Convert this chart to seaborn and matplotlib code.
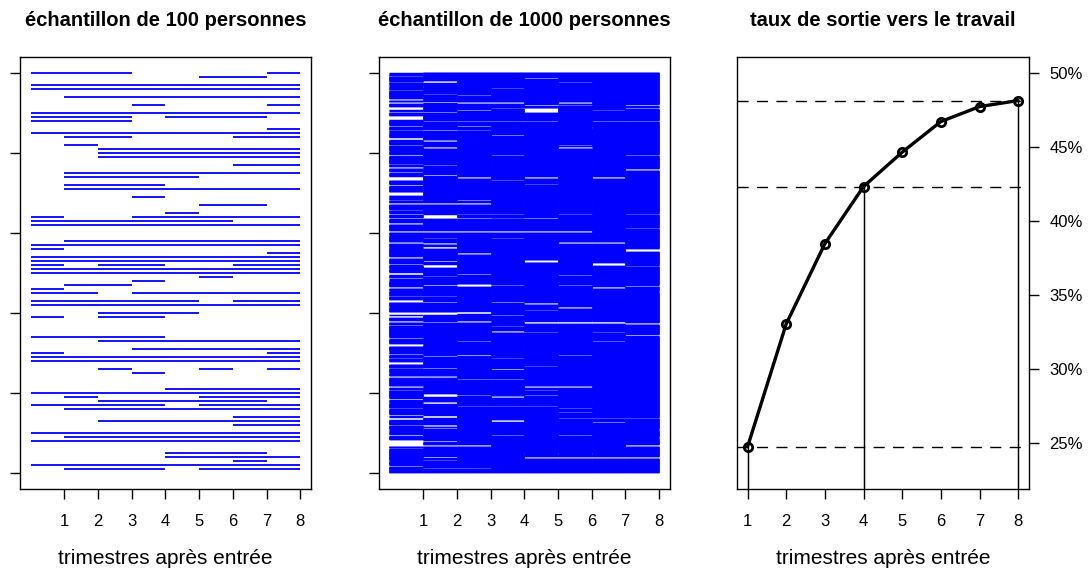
import numpy as np
import matplotlib
matplotlib.use("Agg")
import matplotlib.pyplot as plt
import seaborn as sns

# ---------------- data ----------------
titles = ["échantillon de 100 personnes", "échantillon de 1000 personnes",
          "taux de sortie vers le travail"]
xlabel = "trimestres après entrée"
quarters = [1, 2, 3, 4, 5, 6, 7, 8]

# exit rate to work (%) per quarter
rates = [24.73, 33.03, 38.45, 42.31, 44.63, 46.70, 47.71, 48.12]
highlight_quarters = [1, 4, 8]
pct_ticks = [25, 30, 35, 40, 45, 50]
pct_range = [23, 50]

# sample of 100 persons: one string per person, top person (100) first,
# one character per quarter (1 = in work during that quarter)
sample100 = [
    "11100001", "00000110", "00000000", "11111111", "11111111",
    "00000000", "01111111", "00000000", "00010001", "00000000",
    "11111111", "11101110", "11100000", "00000000", "00000001",
    "11111111", "01100011", "00000000", "01000000", "00111111",
    "00111111", "00111111", "00000000", "00000011", "00000000",
    "01111111", "01111000", "00000000", "01110000", "01111111",
    "00000000", "00010000", "00000000", "00000110", "00000000",
    "00001000", "10011111", "11111100", "11111111", "00000000",
    "00000000", "00000000", "01111111", "11111111", "10000000",
    "00000001", "11111111", "11111111", "10110011", "11111111",
    "11111111", "00000100", "00010000", "01100000", "10000000",
    "11011111", "00000000", "11111011", "11111111", "00000000",
    "00111000", "10110000", "00000000", "00000000", "00000000",
    "00000000", "11110000", "00111111", "00000000", "00011111",
    "10000001", "11111111", "11111111", "00000000", "00100101",
    "00010000", "00000000", "00000000", "00000000", "00001111",
    "11111111", "01000111", "00111110", "11110111", "01111111",
    "00000000", "00000011", "00111111", "00000011", "00000000",
    "11111111", "01111111", "11111111", "00000000", "00000000",
    "00001110", "00001111", "00000010", "11111111", "01110111",
]

# sample of 1000 persons: runs of persons NOT in work, per quarter,
# as (central person index, number of persons), read from the white streaks
gaps_q1 = [(998, 3), (992, 3), (977, 3), (970, 3), (965, 3), (957, 3), (933, 5),
           (925, 5), (911, 9), (902, 5), (892, 3), (886, 9), (867, 5), (856, 3),
           (850, 3), (836, 8), (819, 3), (805, 3), (794, 5), (772, 3), (763, 5),
           (751, 5), (738, 8), (732, 3), (719, 5), (698, 10), (688, 3), (682, 3),
           (673, 5), (657, 3), (647, 5), (636, 5), (623, 5), (603, 5), (593, 3),
           (575, 5), (563, 3), (538, 5), (521, 5), (510, 3), (498, 8), (486, 5),
           (480, 3), (463, 5), (455, 3), (442, 3), (430, 8), (415, 3), (398, 9),
           (390, 5), (378, 5), (369, 3), (336, 5), (320, 8), (303, 3), (296, 5),
           (286, 3), (275, 8), (261, 3), (250, 3), (240, 5), (215, 5), (207, 3),
           (184, 5), (175, 3), (161, 3), (144, 5), (136, 8), (119, 3), (108, 3),
           (103, 3), (94, 5), (75, 18), (61, 3), (30, 3), (17, 5)]
gaps_q2 = [(977, 7), (965, 3), (947, 3), (927, 6), (902, 5), (879, 3), (873, 3),
           (856, 5), (830, 5), (813, 5), (800, 3), (769, 3), (763, 3), (744, 5),
           (725, 3), (673, 5), (644, 5), (638, 7), (603, 5), (586, 3), (573, 5),
           (563, 7), (529, 5), (517, 9), (492, 3), (469, 5), (442, 3), (426, 5),
           (398, 9), (377, 5), (363, 3), (338, 3), (320, 3), (292, 5), (280, 3),
           (261, 5), (240, 5), (215, 3), (194, 10), (175, 7), (141, 8), (118, 5),
           (111, 5), (79, 5), (68, 5), (39, 5), (32, 3), (12, 3)]
gaps_q3 = [(953, 3), (944, 3), (925, 5), (907, 5), (879, 3), (866, 5), (856, 3),
           (805, 3), (778, 3), (738, 5), (708, 3), (682, 5), (673, 5), (647, 3),
           (636, 5), (603, 5), (548, 5), (510, 3), (496, 5), (469, 8), (448, 3),
           (403, 3), (399, 5), (388, 3), (378, 5), (329, 3), (294, 5), (250, 3),
           (234, 3), (228, 3), (194, 3), (167, 3), (68, 5), (11, 3)]
gaps_q4 = [(961, 3), (925, 5), (911, 3), (879, 3), (844, 4), (794, 3), (763, 3),
           (732, 3), (663, 3), (647, 3), (637, 3), (603, 5), (586, 3), (469, 3),
           (426, 5), (394, 3), (378, 3), (367, 3), (353, 5), (310, 3), (286, 3),
           (259, 5), (234, 3), (190, 5), (167, 3), (130, 7), (94, 3), (48, 3)]
gaps_q5 = [(987, 5), (919, 5), (909, 8), (902, 5), (879, 3), (800, 3), (738, 5),
           (722, 3), (673, 3), (636, 5), (603, 5), (529, 7), (448, 3), (423, 5),
           (413, 3), (407, 3), (376, 7), (351, 3), (338, 3), (303, 3), (267, 3),
           (228, 3), (215, 5), (207, 3), (194, 3), (167, 3), (108, 3), (68, 3),
           (48, 3), (38, 5), (25, 3)]
gaps_q6 = [(977, 3), (925, 5), (919, 3), (863, 3), (819, 3), (813, 5), (678, 3),
           (647, 3), (603, 5), (575, 5), (494, 3), (469, 3), (413, 5), (376, 7),
           (294, 3), (215, 5), (180, 3), (161, 3), (151, 3), (137, 3), (94, 3),
           (75, 3), (48, 3), (38, 5)]
gaps_q7 = [(907, 3), (879, 3), (863, 3), (813, 3), (778, 3), (738, 5), (673, 3),
           (575, 5), (522, 8), (463, 5), (376, 7), (351, 3), (329, 3), (137, 3),
           (126, 5), (48, 3), (38, 5), (25, 3)]
gaps_q8 = [(919, 5), (911, 5), (879, 3), (794, 3), (758, 5), (647, 3), (611, 3),
           (557, 8), (517, 3), (467, 5), (453, 3), (373, 5), (344, 5), (137, 3),
           (108, 3), (88, 3), (68, 5), (38, 5)]
gaps_1000 = [gaps_q1, gaps_q2, gaps_q3, gaps_q4, gaps_q5, gaps_q6, gaps_q7, gaps_q8]
n_1000 = 1000

# ---------------- style ----------------
sns.set_theme(style="white")
plt.rcParams["font.family"] = ["Liberation Sans", "DejaVu Sans"]
plt.rcParams["axes.linewidth"] = 1.0
plt.rcParams["axes.edgecolor"] = "black"

BLUE = "#0000FF"

fig = plt.figure(figsize=(10.88, 5.71), dpi=100)
W, H = 1088.0, 571.0
bottom_px, top_px = 488.5, 56.7
lefts = [20.0, 378.7, 736.7]
widths = [291.0, 291.0, 292.3]
axes = [fig.add_axes([l / W, (H - bottom_px) / H, w / W, (bottom_px - top_px) / H])
        for l, w in zip(lefts, widths)]


def style_axes(ax, right=False):
    for s in ax.spines.values():
        s.set_visible(True)
        s.set_color("black")
        s.set_linewidth(1.0)
    ax.tick_params(axis="both", direction="out", length=7.5, width=1.0,
                   color="black", labelsize=12, labelcolor="black")
    ax.tick_params(axis="x", bottom=True, top=False, pad=11)
    if right:
        ax.tick_params(axis="y", left=False, right=True, labelleft=False,
                       labelright=True, pad=7)
    else:
        ax.tick_params(axis="y", left=True, right=False)
    ax.set_xlabel(xlabel, fontsize=15, labelpad=14, color="black")


# ---------------- panel 1 ----------------
ax1 = axes[0]
m100 = np.array([[c == "1" for c in s] for s in sample100])[::-1]  # row 0 = person 1
for qi, q in enumerate(quarters):
    persons = np.where(m100[:, qi])[0] + 1
    ax1.hlines(persons, q - 1, q, colors=BLUE, linewidth=1.3)
ax1.set_xlim(-0.32, 8.32)
ax1.set_ylim(-4, 104)
ax1.set_xticks(quarters)
ax1.set_xticklabels([str(q) for q in quarters])
ax1.set_yticks(range(0, 101, 20))
ax1.set_yticklabels([])
style_axes(ax1)

# ---------------- panel 2 ----------------
ax2 = axes[1]
m1000 = np.ones((n_1000, len(quarters)), dtype=bool)
for qi, gaps in enumerate(gaps_1000):
    for center, n in gaps:
        start = center - n // 2
        m1000[max(start - 1, 0):min(start - 1 + n, n_1000), qi] = False
for qi, q in enumerate(quarters):
    persons = np.where(m1000[:, qi])[0] + 1
    ax2.hlines(persons, q - 1, q, colors=BLUE, linewidth=1.05)
ax2.set_xlim(-0.32, 8.32)
ax2.set_ylim(-40, 1040)
ax2.set_xticks(quarters)
ax2.set_xticklabels([str(q) for q in quarters])
ax2.set_yticks(range(0, 1001, 200))
ax2.set_yticklabels([])
style_axes(ax2)

# ---------------- panel 3 ----------------
ax3 = axes[2]
span = pct_range[1] - pct_range[0]
ylo, yhi = pct_range[0] - 0.04 * span, pct_range[1] + 0.04 * span
xspan = quarters[-1] - quarters[0]
for q in highlight_quarters:
    r = rates[quarters.index(q)]
    ax3.axhline(r, color="black", linewidth=1.0, linestyle=(0, (8, 6)), zorder=1)
    ax3.vlines(q, ylo, r, colors="black", linewidth=1.05, zorder=1)
sns.lineplot(x=quarters, y=rates, ax=ax3, color="black", linewidth=2.4,
             marker="o", markersize=6.0, markerfacecolor="none",
             markeredgecolor="black", markeredgewidth=2.0, zorder=3)
ax3.set_xlim(quarters[0] - 0.04 * xspan, quarters[-1] + 0.04 * xspan)
ax3.set_ylim(ylo, yhi)
ax3.set_xticks(quarters)
ax3.set_xticklabels([str(q) for q in quarters])
ax3.set_yticks(pct_ticks)
ax3.set_yticklabels([f"{v}%" for v in pct_ticks])
style_axes(ax3, right=True)
ax3.set_ylabel("")

for ax, t in zip(axes, titles):
    ax.set_title(t, fontsize=14.5, fontweight="bold", pad=22, color="black")

fig.savefig("out.png", dpi=100)
